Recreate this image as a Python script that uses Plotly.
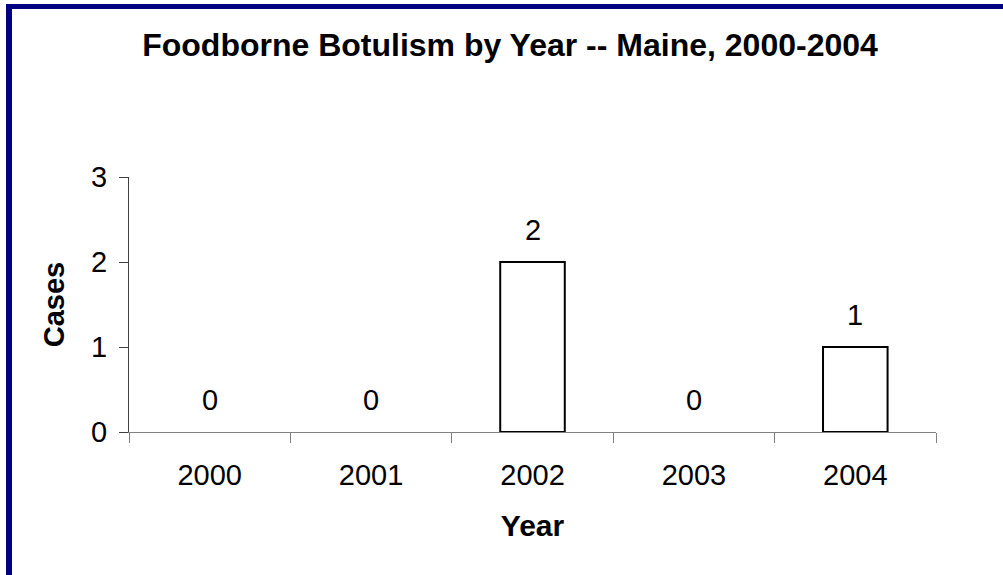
import plotly.graph_objects as go

years = ["2000", "2001", "2002", "2003", "2004"]
cases = [0, 0, 2, 0, 1]
y_ticks = [0, 1, 2, 3]

W, H = 1003, 575
L, R, T, B = 129, 67, 177, 143
PW, PH = W - L - R, H - T - B

def px_x(x):
    return (x - L) / PW

def px_y(y):
    return (H - B - y) / PH

fig = go.Figure()
fig.add_trace(go.Bar(
    x=years, y=cases, width=0.4,
    marker=dict(color="white",
                line=dict(color="black", width=[2 if c > 0 else 0 for c in cases])),
    hoverinfo="x+y",
))

for i, c in enumerate(cases):
    fig.add_annotation(x=i, y=c, text=str(c), showarrow=False,
                       xref="x", yref="y",
                       yanchor="bottom", yshift=14,
                       font=dict(family="Liberation Sans, Arial", size=29, color="black"))

fig.update_layout(
    width=W, height=H,
    margin=dict(l=L, r=R, t=T, b=B),
    paper_bgcolor="white", plot_bgcolor="white",
    showlegend=False,
    font=dict(family="Liberation Sans, Arial", color="black"),
    title=dict(text="<b>Foodborne Botulism by Year -- Maine, 2000-2004</b>",
               x=510 / W, xanchor="center", xref="container",
               y=1 - 45 / H, yanchor="middle", yref="container",
               font=dict(size=32, color="black")),
    xaxis=dict(type="category", range=[-0.5, 4.5], tickson="boundaries",
               ticks="outside", ticklen=10, tickcolor="#808080", tickwidth=1,
               showline=True, linecolor="#808080", linewidth=1,
               showgrid=False, zeroline=False,
               tickfont=dict(size=29), ticklabelstandoff=17,
               title=dict(text="<b>Year</b>", font=dict(size=30), standoff=25)),
    yaxis=dict(range=[0, 3], tickvals=y_ticks,
               ticks="outside", ticklen=9, tickcolor="#404040", tickwidth=1,
               showline=True, linecolor="#404040", linewidth=1,
               showgrid=False, zeroline=False,
               tickfont=dict(size=29), ticklabelstandoff=6,
               title=dict(text="<b>Cases</b>", font=dict(size=29), standoff=17)),
    shapes=[
        dict(type="line", xref="paper", yref="paper",
             x0=px_x(9), x1=px_x(1100), y0=px_y(6.5), y1=px_y(6.5),
             line=dict(color="#000080", width=5)),
        dict(type="line", xref="paper", yref="paper",
             x0=px_x(9), x1=px_x(9), y0=px_y(4), y1=px_y(700),
             line=dict(color="#000080", width=6)),
    ],
)

fig.write_html("out.html",
               config={"displayModeBar": False},
               post_script="document.body.style.margin='0';document.body.style.overflow='hidden';")
